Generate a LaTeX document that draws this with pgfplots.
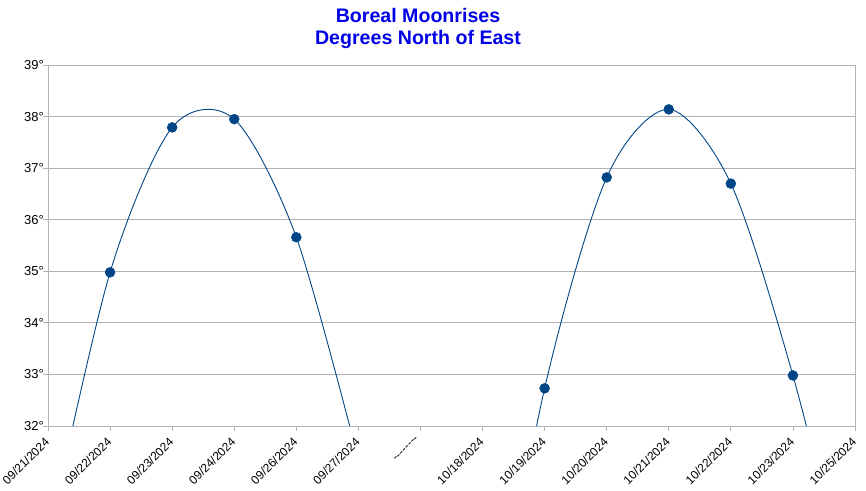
\documentclass[border=0pt]{standalone}
\usepackage{fontspec}
\setmainfont{Liberation Sans}
\usepackage{pgfplots}
\pgfplotsset{compat=1.18}
\definecolor{ser}{HTML}{004586}
\definecolor{ttl}{HTML}{0000E6}
\definecolor{gridc}{HTML}{B3B3B3}
\begin{document}
\begin{tikzpicture}[x=1pt,y=1pt]
\useasboundingbox (0,0) rectangle (866,490);
\node[anchor=base, font=\bfseries\fontsize{19.6}{22}\selectfont, text=ttl, inner sep=0pt] at (418,467.5) {Boreal Moonrises};
\node[anchor=base, font=\bfseries\fontsize{19.6}{22}\selectfont, text=ttl, inner sep=0pt] at (418,445) {Degrees North of East};
\begin{axis}[
  at={(48pt,64pt)}, anchor=south west,
  scale only axis, width=807pt, height=361pt,
  xmin=0, xmax=13, ymin=32, ymax=39,
  xtick={0,...,13},
  xticklabels={09/21/2024,09/22/2024,09/23/2024,09/24/2024,09/26/2024,09/27/2024,{-}{-}{-}{-}{-}{-}{-}{-},10/18/2024,10/19/2024,10/20/2024,10/21/2024,10/22/2024,10/23/2024,10/25/2024},
  ytick={32,...,39},
  yticklabels={32°,33°,34°,35°,36°,37°,38°,39°},
  ymajorgrids, grid style={gridc, line width=0.8pt},
  axis line style={gridc, line width=0.8pt},
  tick style={gridc, line width=0.8pt},
  tick align=outside, major tick length=5pt,
  xtick pos=left, ytick pos=left,
  xticklabel style={xshift=-4pt, yshift=-4pt, rotate=45, anchor=north east, font=\fontsize{12}{14}\selectfont, inner sep=1pt},
  yticklabel style={font=\fontsize{13}{15}\selectfont, inner sep=1pt, xshift=2pt},
  clip=true,
]
\addplot[ser, line width=0.9pt, smooth, no marks] coordinates {
  (0,29.8) (1,34.98) (2,37.79) (3,37.95) (4,35.66) (5,31.35)
};
\addplot[ser, line width=0.9pt, smooth, no marks] coordinates {
  (7,26.4) (8,32.73) (9,36.82) (10,38.14) (11,36.70) (12,32.98) (13,28.2)
};
\addplot[only marks, mark=*, mark size=5pt, color=ser] coordinates {
  (1,34.98) (2,37.79) (3,37.95) (4,35.66)
  (8,32.73) (9,36.82) (10,38.14) (11,36.70) (12,32.98)
};
\end{axis}
\end{tikzpicture}
\end{document}
